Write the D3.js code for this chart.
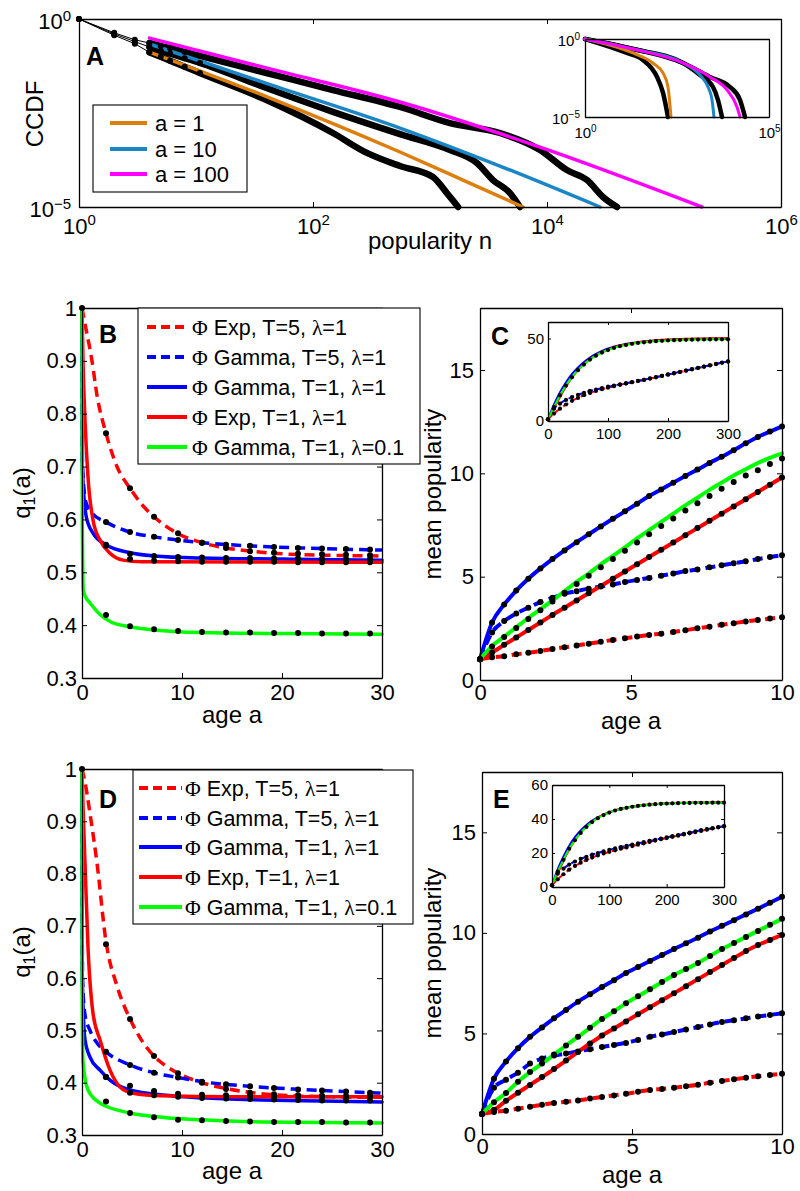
<!DOCTYPE html>
<html>
<head>
<meta charset="utf-8">
<script src="https://cdn.jsdelivr.net/npm/d3@7"></script>
<style>
  body { margin: 0; background: #fff; }
</style>
</head>
<body>
<svg id="fig" width="800" height="1191"></svg>
<script>
// ---------- panel A: CCDF of popularity ----------
const aLabels = ['a = 1', 'a = 10', 'a = 100'];
const aColors = ['#dd7f0e', '#1b86c6', '#ff00ff'];
// model curves
const modelN = [
  [4, 43, 554, 2000, 6240],
  [4, 43, 554, 3960, 28400],
  [4, 43, 554, 8710, 211000]
];
const modelP = [
  [0.132, 0.0079, 2.9e-4, 4.9e-5, 1e-5],
  [0.216, 0.018, 1.26e-3, 1.23e-4, 1e-5],
  [0.31, 0.047, 6.2e-3, 3.9e-4, 1e-5]
];
// empirical curves (black)
const dataN = [
  [1, 2, 3, 4, 5, 6, 8, 10.8, 40, 148, 289, 554, 1060, 1400, 1740],
  [1, 2, 3, 4, 5, 6, 8, 10.8, 40, 148, 554, 1480, 2520, 3450, 4830, 5880],
  [1, 2, 3, 4, 5, 6, 8, 10.8, 40, 148, 554, 1480, 3960, 8710, 14800, 22000, 30100, 39700]
];
const dataP = [
  [1, 0.37, 0.22, 0.13, 0.099, 0.078, 0.054, 0.0366, 7.0e-3, 9.3e-4, 2.74e-4, 1.23e-4, 6.3e-5, 2.3e-5, 1e-5],
  [1, 0.40, 0.25, 0.18, 0.143, 0.12, 0.091, 0.068, 0.0146, 3.4e-3, 8.7e-4, 3.3e-4, 1.48e-4, 5.2e-5, 2.35e-5, 1e-5],
  [1, 0.43, 0.28, 0.23, 0.191, 0.167, 0.133, 0.104, 0.0366, 0.0129, 4.57e-3, 1.71e-3, 9.3e-4, 3.3e-4, 9.6e-5, 5.2e-5, 1.85e-5, 1e-5]
];
// inset A
const insModelN = [
  [1, 20.2, 70, 132, 180, 217],
  [1, 20.2, 460, 1334, 2200, 2830, 3200],
  [1, 20.2, 460, 2490, 7220, 13500, 16300]
];
const insModelP = [
  [1, 0.127, 0.029, 6.6e-3, 8.4e-4, 1e-5],
  [1, 0.229, 0.029, 4.9e-3, 8.4e-4, 1.23e-4, 1e-5],
  [1, 0.229, 0.029, 3.7e-3, 5.4e-4, 4.4e-5, 1e-5]
];
const insDataN = [
  [1, 13.8, 37.7, 90.5, 132, 180],
  [1, 20.2, 460, 1334, 3010, 4110, 5280],
  [1, 20.2, 460, 2490, 8710, 16300, 22300]
];
const insDataP = [
  [1, 0.127, 0.045, 3.7e-3, 3.5e-4, 1e-5],
  [1, 0.229, 0.029, 4.9e-3, 8.4e-4, 1.23e-4, 1e-5],
  [1, 0.229, 0.029, 3.7e-3, 8.4e-4, 1.23e-4, 1e-5]
];

// ---------- panels B and D: q1(a) ----------
const qLabels = ['Φ Exp, T=5, λ=1', 'Φ Gamma, T=5, λ=1', 'Φ Gamma, T=1, λ=1', 'Φ Exp, T=1, λ=1', 'Φ Gamma, T=1, λ=0.1'];
const qColors = ['#ff0000', '#0000ff', '#0000ff', '#ff0000', '#00ff00'];
const qDashed = [true, true, false, false, false];

const bAges = [
  [0, 0.3, 1, 1.5, 2.4, 3.5, 4.8, 6, 7.2, 9.6, 12, 14.4, 16.8, 20, 25, 30],
  [0, 0.05, 0.4, 1, 2.4, 4.8, 7.2, 9.6, 12, 16.8, 22, 30],
  [0, 0.03, 0.43, 1.1, 2.4, 4.8, 7.2, 12, 20, 30],
  [0, 0.1, 0.3, 0.6, 1.1, 1.8, 2.8, 4.1, 6, 30],
  [0, 0.03, 0.13, 0.4, 0.8, 1.8, 3, 4.8, 7.2, 12, 20, 30]
];
const bQ = [
  [1, 0.97, 0.9, 0.835, 0.763, 0.7, 0.659, 0.628, 0.605, 0.573, 0.556, 0.546, 0.54, 0.535, 0.532, 0.531],
  [1, 0.7, 0.632, 0.612, 0.595, 0.576, 0.567, 0.561, 0.556, 0.55, 0.546, 0.542],
  [1, 0.7, 0.605, 0.574, 0.552, 0.537, 0.531, 0.527, 0.525, 0.523],
  [1, 0.9, 0.788, 0.68, 0.599, 0.561, 0.536, 0.523, 0.52, 0.519],
  [1, 0.6, 0.466, 0.452, 0.442, 0.42, 0.405, 0.397, 0.391, 0.386, 0.384, 0.383]
];
const dAges = [
  [0, 0.3, 0.8, 1.5, 2.4, 3.5, 4.8, 6, 7.2, 8.4, 9.6, 12, 14.4, 17, 20, 25, 30],
  [0, 0.05, 0.3, 0.8, 1.5, 2.4, 4.8, 7.2, 9.6, 12, 16.8, 22, 30],
  [0, 0.03, 0.3, 0.8, 1.8, 2.8, 4.8, 8.4, 12, 18, 24, 30],
  [0, 0.1, 0.3, 0.6, 1.1, 1.8, 2.8, 3.8, 5.1, 8, 15, 30],
  [0, 0.02, 0.1, 0.6, 1.8, 2.4, 4.8, 8.4, 12, 18, 30]
];
const dQ = [
  [1, 0.975, 0.915, 0.82, 0.67, 0.585, 0.522, 0.48, 0.451, 0.432, 0.418, 0.4, 0.389, 0.381, 0.376, 0.373, 0.372],
  [1, 0.6, 0.53, 0.5, 0.476, 0.459, 0.434, 0.419, 0.41, 0.402, 0.393, 0.387, 0.38],
  [1, 0.6, 0.482, 0.449, 0.424, 0.405, 0.386, 0.376, 0.371, 0.367, 0.365, 0.363],
  [1, 0.93, 0.82, 0.66, 0.533, 0.482, 0.424, 0.392, 0.38, 0.375, 0.373, 0.373],
  [1, 0.55, 0.44, 0.386, 0.361, 0.355, 0.342, 0.333, 0.329, 0.325, 0.323]
];
// simulation dots
const dotAges = [2.4, 4.8, 7.2, 9.6, 12, 14.4, 16.8, 19.2, 21.6, 24, 26.4, 28.8];
const bDots = [
  [0.763, 0.659, 0.605, 0.574, 0.556, 0.546, 0.54, 0.537, 0.535, 0.534, 0.533, 0.532],
  [0.595, 0.576, 0.567, 0.561, 0.556, 0.552, 0.55, 0.548, 0.546, 0.545, 0.544, 0.543],
  [0.552, 0.535, 0.531, 0.529, 0.528, 0.527, 0.527, 0.526, 0.526, 0.525, 0.525, 0.525],
  [0.55, 0.525, 0.522, 0.521, 0.52, 0.52, 0.52, 0.52, 0.519, 0.519, 0.519, 0.519],
  [0.419, 0.398, 0.392, 0.389, 0.387, 0.386, 0.386, 0.385, 0.385, 0.384, 0.384, 0.384]
];
const dDots = [
  [0.665, 0.522, 0.451, 0.418, 0.4, 0.388, 0.381, 0.378, 0.376, 0.375, 0.374, 0.374],
  [0.459, 0.434, 0.419, 0.41, 0.402, 0.397, 0.393, 0.39, 0.387, 0.385, 0.383, 0.381],
  [0.411, 0.381, 0.376, 0.373, 0.371, 0.37, 0.369, 0.368, 0.367, 0.366, 0.366, 0.366],
  [0.411, 0.394, 0.384, 0.379, 0.377, 0.376, 0.375, 0.374, 0.374, 0.373, 0.373, 0.373],
  [0.364, 0.342, 0.334, 0.329, 0.328, 0.327, 0.326, 0.325, 0.325, 0.325, 0.324, 0.324]
];

// ---------- panels C and E: mean popularity ----------
const meanAges = [0, 0.4, 0.8, 1.2, 1.6, 2, 2.4, 2.8, 3.2, 3.6, 4, 4.4, 4.8, 5.2, 5.6, 6, 6.4, 6.8, 7.2, 7.6, 8, 8.4, 8.8, 9.2, 9.6, 10];
// order: Exp T=5, Gamma T=5, Gamma T=1, Exp T=1, Gamma lambda=0.1
const cMean = [
  [1, 1.1, 1.15, 1.24, 1.32, 1.4, 1.5, 1.58, 1.67, 1.76, 1.85, 1.94, 2.02, 2.1, 2.18, 2.24, 2.32, 2.41, 2.5, 2.58, 2.67, 2.75, 2.83, 2.9, 2.97, 3.04],
  [1, 2.3, 2.85, 3.22, 3.5, 3.77, 3.98, 4.17, 4.3, 4.42, 4.52, 4.62, 4.74, 4.84, 4.94, 5.05, 5.15, 5.27, 5.35, 5.45, 5.55, 5.65, 5.75, 5.85, 5.95, 6.04],
  [1, 2.78, 3.65, 4.33, 4.9, 5.4, 5.85, 6.27, 6.67, 7.05, 7.43, 7.8, 8.16, 8.53, 8.9, 9.22, 9.55, 9.87, 10.18, 10.5, 10.8, 11.12, 11.45, 11.76, 12.02, 12.27],
  [1, 1.33, 1.7, 2.06, 2.42, 2.78, 3.15, 3.5, 3.85, 4.2, 4.55, 4.9, 5.25, 5.6, 5.95, 6.3, 6.65, 7.0, 7.35, 7.7, 8.05, 8.4, 8.75, 9.1, 9.45, 9.8],
  [1, 1.65, 2.1, 2.55, 3.0, 3.42, 3.85, 4.3, 4.75, 5.15, 5.6, 6.0, 6.42, 6.85, 7.25, 7.65, 8.05, 8.45, 8.82, 9.2, 9.55, 9.9, 10.2, 10.5, 10.75, 10.97]
];
const cGreenDots = [1, 1.62, 2.08, 2.52, 2.95, 3.38, 3.8, 4.22, 4.65, 5.05, 5.45, 5.85, 6.25, 6.65, 7.05, 7.45, 7.82, 8.2, 8.55, 8.9, 9.25, 9.58, 9.9, 10.15, 10.45, 10.72];
const eMean = [
  [1, 1.1, 1.16, 1.26, 1.35, 1.45, 1.54, 1.6, 1.67, 1.76, 1.84, 1.92, 2.0, 2.1, 2.19, 2.24, 2.3, 2.37, 2.45, 2.55, 2.64, 2.72, 2.8, 2.87, 2.93, 2.99],
  [1, 2.3, 2.7, 3.05, 3.5, 3.75, 3.9, 4.0, 4.1, 4.22, 4.33, 4.43, 4.53, 4.68, 4.83, 4.95, 5.07, 5.2, 5.32, 5.45, 5.57, 5.66, 5.75, 5.84, 5.92, 6.0],
  [1, 2.75, 3.6, 4.27, 4.83, 5.3, 5.75, 6.17, 6.58, 6.95, 7.31, 7.65, 8.0, 8.3, 8.6, 8.9, 9.2, 9.48, 9.76, 10.07, 10.35, 10.63, 10.92, 11.2, 11.5, 11.8],
  [1, 1.2, 1.65, 2.05, 2.44, 2.83, 3.23, 3.65, 4.08, 4.5, 4.9, 5.25, 5.6, 5.95, 6.3, 6.65, 7.0, 7.35, 7.7, 8.05, 8.4, 8.75, 9.1, 9.4, 9.65, 9.9],
  [1, 1.58, 2.04, 2.6, 3.08, 3.5, 3.95, 4.4, 4.83, 5.28, 5.72, 6.1, 6.5, 6.85, 7.2, 7.56, 7.9, 8.2, 8.5, 8.85, 9.2, 9.5, 9.8, 10.1, 10.4, 10.7]
];
// insets, long ages
const inAges = [0, 10, 20, 30, 40, 50, 60, 70, 80, 90, 100, 110, 120, 130, 140, 150, 160, 170, 180, 190, 200, 210, 220, 230, 240, 250, 260, 270, 280, 290, 300];
const cInset = [
  [1, 4.5, 7.5, 10, 12.2, 14, 15.6, 17, 18.2, 19.3, 20.2, 21.1, 21.9, 22.7, 23.5, 24.2, 24.9, 25.7, 26.5, 27.3, 28.1, 28.9, 29.7, 30.5, 31.3, 32.1, 32.9, 33.7, 34.5, 35.3, 36],
  [1, 7.5, 10.5, 12.8, 14.5, 15.9, 17.1, 18.2, 19.1, 20, 20.8, 21.5, 22.2, 22.9, 23.6, 24.3, 25, 25.8, 26.6, 27.4, 28.2, 29, 29.8, 30.6, 31.4, 32.2, 33, 33.8, 34.6, 35.4, 36.1],
  [1, 10, 17.5, 23.5, 28.5, 32.5, 35.8, 38.5, 40.7, 42.5, 43.9, 45, 45.9, 46.7, 47.3, 47.8, 48.2, 48.5, 48.8, 49, 49.2, 49.35, 49.5, 49.6, 49.7, 49.75, 49.8, 49.85, 49.9, 49.9, 50],
  [1, 7.5, 14.5, 20.8, 26.2, 30.8, 34.5, 37.5, 40, 41.9, 43.4, 44.7, 45.7, 46.5, 47.2, 47.8, 48.2, 48.6, 48.9, 49.2, 49.4, 49.6, 49.7, 49.8, 49.9, 50, 50, 50.1, 50.1, 50.1, 50.2],
  [1, 8.5, 15.5, 21.5, 26.5, 30.8, 34.2, 37.2, 39.6, 41.5, 43, 44.3, 45.3, 46.1, 46.8, 47.3, 47.7, 48.1, 48.4, 48.6, 48.8, 49, 49.1, 49.2, 49.3, 49.35, 49.4, 49.45, 49.5, 49.5, 49.5]
];
const eInset = [
  [1, 4.5, 7.5, 10.2, 12.4, 14.3, 15.9, 17.3, 18.6, 19.7, 20.7, 21.6, 22.5, 23.3, 24.1, 24.9, 25.7, 26.5, 27.3, 28.1, 28.8, 29.5, 30.2, 30.9, 31.6, 32.3, 33, 33.7, 34.4, 35.1, 35.7],
  [1, 7.8, 10.8, 13.2, 15, 16.5, 17.8, 19, 20, 21, 21.9, 22.7, 23.5, 24.2, 25, 25.7, 26.4, 27.1, 27.8, 28.5, 29.2, 29.9, 30.6, 31.3, 32, 32.7, 33.4, 34, 34.6, 35.2, 35.8],
  [1, 10.5, 18, 24.3, 29.3, 33.2, 36.4, 39, 41, 42.6, 43.9, 45, 45.9, 46.6, 47.2, 47.7, 48.1, 48.4, 48.7, 48.9, 49.1, 49.2, 49.3, 49.4, 49.45, 49.5, 49.5, 49.55, 49.6, 49.6, 49.6],
  [1, 8, 15.3, 22, 27.4, 31.8, 35.4, 38.4, 40.8, 42.6, 44, 45.2, 46.1, 46.8, 47.4, 47.9, 48.3, 48.6, 48.9, 49.1, 49.3, 49.4, 49.5, 49.6, 49.6, 49.7, 49.7, 49.7, 49.8, 49.8, 49.8],
  [1, 9, 16, 22.5, 27.5, 31.8, 35.3, 38.2, 40.5, 42.3, 43.8, 45, 45.9, 46.6, 47.2, 47.7, 48.1, 48.4, 48.7, 48.9, 49.1, 49.2, 49.3, 49.4, 49.45, 49.5, 49.5, 49.55, 49.6, 49.6, 49.6]
];

// ---------- drawing helpers ----------
const FONT = '"Liberation Sans", Arial, Helvetica, sans-serif';
const SERIF = '"Liberation Serif", "DejaVu Serif", serif';
const DASH = '10,6';
const TICK_FS = 22, LABEL_FS = 24;
const svg = d3.select('#fig');

function frame(x, y, o) {
  const tl = o.tl || 5;
  const yb = y.range()[0], yt = y.range()[1], xl = x.range()[0], xr = x.range()[1];
  const g = svg.append('g');
  const put = (axis, tx, ty) => g.append('g').attr('transform', `translate(${tx},${ty})`).call(axis);
  const bottom = put(d3.axisBottom(x).tickValues(o.xt).tickSize(-tl).tickSizeOuter(0)
    .tickPadding(o.xpad).tickFormat(o.xf || (d => d)), 0, yb);
  put(d3.axisTop(x).tickValues(o.xt).tickSize(-tl).tickSizeOuter(0).tickFormat(''), 0, yt);
  const left = put(d3.axisLeft(y).tickValues(o.yt).tickSize(-tl).tickSizeOuter(0)
    .tickPadding(o.ypad).tickFormat(o.yf || (d => d)), xl, 0);
  put(d3.axisRight(y).tickValues(o.yt).tickSize(-tl).tickSizeOuter(0).tickFormat(''), xr, 0);
  g.selectAll('.domain').attr('stroke', '#000').attr('stroke-width', 1.3);
  g.selectAll('.tick line').attr('stroke', '#000');
  g.selectAll('.tick text').attr('font-family', FONT).attr('font-size', o.fs).attr('fill', '#000');
  if (o.ydy) left.selectAll('.tick text').attr('dy', o.ydy);
  return { bottom, left };
}

function powerLabels(sel, supSize) {
  sel.selectAll('.tick text').each(function (d) {
    const e = Math.round(Math.log10(d));
    d3.select(this).text('10').append('tspan')
      .attr('dy', '-0.55em').attr('font-size', supSize)
      .text(e < 0 ? '\u2212' + (-e) : String(e));
  });
}

function curve(x, y, xs, ys, color, width, dash, type) {
  svg.append('path').datum(d3.zip(xs, ys))
    .attr('fill', 'none').attr('stroke', color).attr('stroke-width', width)
    .attr('stroke-dasharray', dash || null).attr('stroke-linejoin', 'round')
    .attr('stroke-linecap', dash ? 'butt' : 'round')
    .attr('d', d3.line().x(d => x(d[0])).y(d => y(d[1])).curve(type || d3.curveMonotoneX));
}

function dots(x, y, xs, ys, r) {
  svg.append('g').selectAll('circle').data(d3.zip(xs, ys)).join('circle')
    .attr('cx', d => x(d[0])).attr('cy', d => y(d[1])).attr('r', r).attr('fill', '#000');
}

function text(x, y, str, size, o = {}) {
  return svg.append('text').attr('x', x).attr('y', y).text(str)
    .attr('font-family', FONT).attr('font-size', size).attr('fill', '#000')
    .attr('text-anchor', o.anchor || 'start').attr('font-weight', o.weight || null)
    .attr('transform', o.rotate ? `rotate(-90,${x},${y})` : null);
}

function greekText(sel, str) {
  // Phi and lambda are set in a serif face, as in the original figure
  str.split(/([Φλ])/).filter(s => s.length).forEach(s => {
    sel.append('tspan').text(s).attr('font-family', /[Φλ]/.test(s) ? SERIF : FONT);
  });
}

function qLegend(x0, y0, w, h, ys, lx0, lx1, tx) {
  svg.append('rect').attr('x', x0).attr('y', y0).attr('width', w).attr('height', h)
    .attr('fill', '#fff').attr('stroke', '#000').attr('stroke-width', 1.1);
  qLabels.forEach((lab, i) => {
    svg.append('line').attr('x1', lx0).attr('x2', lx1).attr('y1', ys[i]).attr('y2', ys[i])
      .attr('stroke', qColors[i]).attr('stroke-width', 4).attr('stroke-dasharray', qDashed[i] ? '9,5' : null);
    const t = svg.append('text').attr('x', tx).attr('y', ys[i] + 7.5)
      .attr('font-size', 21.5).attr('fill', '#000');
    greekText(t, lab);
  });
}

function yLabelQ(x, y) {
  const t = svg.append('text').attr('x', x).attr('y', y).attr('text-anchor', 'middle')
    .attr('font-family', FONT).attr('font-size', LABEL_FS).attr('transform', `rotate(-90,${x},${y})`);
  t.append('tspan').text('q');
  t.append('tspan').text('1').attr('font-size', 16).attr('dy', 5);
  t.append('tspan').text('(a)').attr('dy', -5);
}

// ================= PANEL A =================
const xA = d3.scaleLog().domain([1, 1e6]).range([79, 781]);
const yA = d3.scaleLog().domain([1e-5, 1]).range([207, 19]);
// empirical thick black curves (from n = 4 on) and colored models
dataN.forEach((ns, k) => {
  const s = ns.findIndex(v => v >= 4);
  curve(xA, yA, ns.slice(s), dataP[k].slice(s), '#000', 6.5);
});
dataN.forEach((ns, k) => curve(xA, yA, ns, dataP[k], '#000', 1, null, d3.curveLinear));
modelN.forEach((ns, k) => curve(xA, yA, ns, modelP[k], aColors[k], 3.5));
dataN.forEach((ns, k) => {
  const e = ns.findIndex(v => v > 11);
  dots(xA, yA, ns.slice(0, e), dataP[k].slice(0, e), 3);
});
const fA = frame(xA, yA, { xt: [1, 1e2, 1e4, 1e6], yt: [1e-5, 1], fs: TICK_FS, xpad: 11, ypad: 8, ydy: '0.42em', xf: () => '', yf: () => '' });
powerLabels(fA.bottom, 15);
powerLabels(fA.left, 15);
text(430, 249, 'popularity n', LABEL_FS, { anchor: 'middle' });
text(43, 114, 'CCDF', LABEL_FS, { anchor: 'middle', rotate: true });
text(86, 65, 'A', 25, { weight: 'bold' });
// legend A
svg.append('rect').attr('x', 93).attr('y', 105).attr('width', 154).attr('height', 87)
  .attr('fill', '#fff').attr('stroke', '#000').attr('stroke-width', 1.1);
aLabels.forEach((lab, i) => {
  const yy = [123, 149, 174][i];
  svg.append('line').attr('x1', 110).attr('x2', 147).attr('y1', yy).attr('y2', yy)
    .attr('stroke', aColors[i]).attr('stroke-width', 4);
  text(155, yy + 8, lab, 22);
});
// inset A
const xAi = d3.scaleLog().domain([1, 1e5]).range([585, 769]);
const yAi = d3.scaleLog().domain([1e-5, 1]).range([117, 39]);
svg.append('rect').attr('x', 585).attr('y', 39).attr('width', 184).attr('height', 78).attr('fill', '#fff');
insDataN.forEach((ns, k) => curve(xAi, yAi, ns, insDataP[k], '#000', 4.5));
insModelN.forEach((ns, k) => curve(xAi, yAi, ns, insModelP[k], aColors[k], 3));
const fAi = frame(xAi, yAi, { xt: [1, 1e5], yt: [1e-5, 1], fs: 15, xpad: 10, ypad: 5, ydy: '0.4em', tl: 0, xf: () => '', yf: () => '' });
powerLabels(fAi.bottom, 10);
powerLabels(fAi.left, 10);

// ================= PANELS B and D =================
function qPanel(ages, qs, dotVals, x, y, letter, letterY, legend) {
  qs.forEach((q, k) => curve(x, y, ages[k], q, qColors[k], 3.5, qDashed[k] ? DASH : null));
  dots(x, y, [0], [1], 3);
  dotVals.forEach(v => dots(x, y, dotAges, v, 3));
  frame(x, y, { xt: [0, 10, 20, 30], yt: [0.3, 0.4, 0.5, 0.6, 0.7, 0.8, 0.9, 1], fs: TICK_FS, xpad: 6, ypad: 5, yf: d3.format('.1~f') });
  legend();
  text(x.range()[0] + 17, letterY, letter, 25, { weight: 'bold' });
}
const xB = d3.scaleLinear().domain([0, 30]).range([82, 382]);
const yB = d3.scaleLinear().domain([0.3, 1]).range([678, 308]);
qPanel(bAges, bQ, bDots, xB, yB, 'B', 343, () => qLegend(138, 308, 282, 156, [327, 357, 387, 417, 447], 147, 187, 192));
text(232, 723, 'age a', LABEL_FS, { anchor: 'middle' });
yLabelQ(30, 493);

const xD = d3.scaleLinear().domain([0, 30]).range([82, 382]);
const yD = d3.scaleLinear().domain([0.3, 1]).range([1135, 769]);
qPanel(dAges, dQ, dDots, xD, yD, 'D', 808, () => qLegend(133, 770, 280, 154, [788, 818, 847, 877, 907], 139, 182, 185));
text(232, 1179, 'age a', LABEL_FS, { anchor: 'middle' });
yLabelQ(30, 952);

// ================= PANELS C and E =================
function meanPanel(vals, greenDots, x, y, inset, letter, letterY) {
  vals.forEach((v, k) => curve(x, y, meanAges, v, qColors[k], 4, qDashed[k] ? DASH : null));
  vals.forEach((v, k) => dots(x, y, meanAges, k === 4 ? greenDots : v, 3));
  frame(x, y, { xt: [0, 5, 10], yt: [0, 5, 10, 15], fs: TICK_FS, xpad: 4, ypad: 6 });
  // inset
  const xi = inset.x, yi = inset.y;
  svg.append('rect').attr('x', xi.range()[0]).attr('y', yi.range()[1])
    .attr('width', xi.range()[1] - xi.range()[0]).attr('height', yi.range()[0] - yi.range()[1]).attr('fill', '#fff');
  inset.vals.forEach((v, k) => curve(xi, yi, inAges, v, qColors[k], 2, qDashed[k] ? '6,4' : null));
  [0, 1, 4].forEach(k => dots(xi, yi, inAges, inset.vals[k], 2.1));
  frame(xi, yi, { xt: [0, 100, 200, 300], yt: inset.yt, fs: 15, xpad: 7, ypad: 4, tl: 3 });
  text(x.range()[0] + 11, letterY, letter, 25, { weight: 'bold' });
}
const xC = d3.scaleLinear().domain([0, 10]).range([480, 782]);
const yC = d3.scaleLinear().domain([0, 18]).range([680, 308]);
meanPanel(cMean, cGreenDots, xC, yC, {
  x: d3.scaleLinear().domain([0, 300]).range([548, 728]),
  y: d3.scaleLinear().domain([0, 60]).range([421, 322]),
  vals: cInset, yt: [0, 50]
}, 'C', 345);
text(631, 729, 'age a', LABEL_FS, { anchor: 'middle' });
text(441, 494, 'mean popularity', LABEL_FS, { anchor: 'middle', rotate: true });

const xE = d3.scaleLinear().domain([0, 10]).range([482, 782]);
const yE = d3.scaleLinear().domain([0, 18]).range([1134, 772]);
meanPanel(eMean, eMean[4], xE, yE, {
  x: d3.scaleLinear().domain([0, 300]).range([552, 724]),
  y: d3.scaleLinear().domain([0, 60]).range([887, 785]),
  vals: eInset, yt: [0, 20, 40, 60]
}, 'E', 808);
text(632, 1183, 'age a', LABEL_FS, { anchor: 'middle' });
text(441, 953, 'mean popularity', LABEL_FS, { anchor: 'middle', rotate: true });
</script>
</body>
</html>
